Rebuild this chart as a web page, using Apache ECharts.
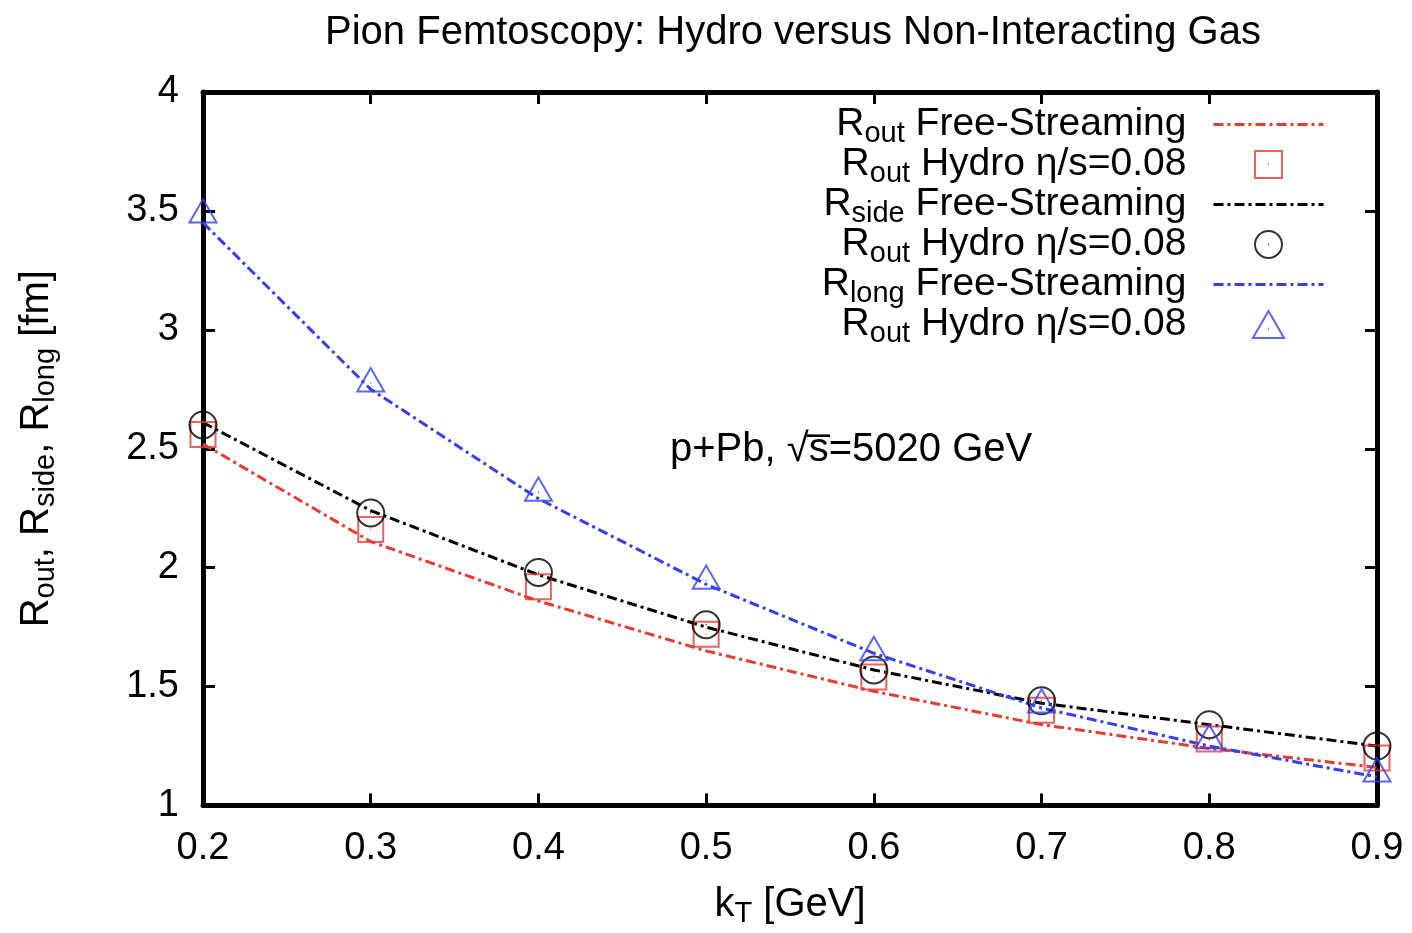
<!DOCTYPE html>
<html><head><meta charset="utf-8">
<script src="https://cdn.jsdelivr.net/npm/echarts@6/dist/echarts.min.js"></script>
<style>html,body{margin:0;padding:0;background:#fff}#c{width:1412px;height:933px}</style>
</head><body><div id="c"></div>
<script>
const kT = [0.2, 0.3, 0.4, 0.5, 0.6, 0.7, 0.8, 0.9];
const routFS    = [2.52, 2.11, 1.86, 1.65, 1.48, 1.34, 1.24, 1.16];
const routHydro = [2.56, 2.16, 1.92, 1.72, 1.54, 1.40, 1.28, 1.20];
const rsideFS    = [2.61, 2.24, 1.97, 1.75, 1.57, 1.43, 1.34, 1.25];
const rsideHydro = [2.60, 2.23, 1.98, 1.76, 1.57, 1.44, 1.34, 1.25];
const rlongFS    = [3.45, 2.75, 2.29, 1.93, 1.64, 1.41, 1.25, 1.12];
const rlongHydro = [3.50, 2.79, 2.33, 1.96, 1.66, 1.44, 1.29, 1.15];
const xTicks = [0.2, 0.3, 0.4, 0.5, 0.6, 0.7, 0.8, 0.9];
const yTicks = [1, 1.5, 2, 2.5, 3, 3.5, 4];

const FONT = 'Liberation Sans';
const pairs = (ys) => kT.map((x, i) => [x, ys[i]]);
const dashDot = [10, 4, 3, 4];

const legendLabels = {
  'routFS': '{m|R}{s|out}{m| Free-Streaming}{g|}',
  'routHydro': '{m|R}{s|out}{m| Hydro η/s=0.08}{g|}',
  'rsideFS': '{m|R}{s|side}{m| Free-Streaming}{g|}',
  'rsideHydro': '{m|R}{s|out}{m| Hydro η/s=0.08}{g|}',
  'rlongFS': '{m|R}{s|long}{m| Free-Streaming}{g|}',
  'rlongHydro': '{m|R}{s|out}{m| Hydro η/s=0.08}{g|}'
};

const SQUARE = 'path://M0,0L10,0L10,10L0,10Z M4.85,5L5.15,5';
const CIRCLE = 'path://M0,5A5,5,0,1,0,10,5A5,5,0,1,0,0,5Z M4.85,5L5.15,5';
const TRIANGLE = 'path://M5,0L10,8.66L0,8.66Z M4.85,5.6L5.15,5.6';

const RED = '#ea3a32', BLACK = '#000000', BLUE = '#3340f2';

function lineSeries(name, data, color) {
  return { name, type: 'line', data: pairs(data), symbol: 'none', z: 2,
    lineStyle: { color, width: 3, type: dashDot }, itemStyle: { color } };
}
function pointSeries(name, data, color, symbol, size) {
  return { name, type: 'scatter', data: pairs(data), symbol, symbolSize: size, symbolKeepAspect: true, z: 3,
    itemStyle: { color: 'rgba(255,255,255,0)', borderColor: color, borderWidth: 2 } };
}

const chart = echarts.init(document.getElementById('c'));
const axisLine = { show: true, lineStyle: { color: '#000', width: 5 } };
const tick = { show: true, inside: true, length: 12, lineStyle: { color: '#000', width: 3 } };
const richAxis = {
  m: { fontFamily: FONT, fontSize: 40, color: '#000', lineHeight: 46 },
  s: { fontFamily: FONT, fontSize: 29, color: '#000', padding: [18, 0, 0, 0], lineHeight: 46 }
};
const legendLine = (name, color) => ({ name, itemStyle: { opacity: 0 },
  lineStyle: { color, width: 3, type: dashDot } });

chart.setOption({
  animation: false,
  backgroundColor: '#fff',
  textStyle: { fontFamily: FONT },
  title: {
    text: 'Pion Femtoscopy: Hydro versus Non-Interacting Gas',
    left: 788, top: 8, textAlign: 'center',
    textStyle: { fontFamily: FONT, fontSize: 40, fontWeight: 'normal', color: '#000' }
  },
  grid: { left: 203, right: 35, top: 92, bottom: 125, containLabel: false },
  xAxis: [{
    type: 'value', min: 0.2, max: 0.9, interval: 0.1, position: 'bottom',
    name: '{m|k}{s|T}{m| [GeV]}', nameLocation: 'middle', nameGap: 76,
    nameTextStyle: { rich: richAxis },
    axisLine, axisTick: tick, splitLine: { show: false },
    axisLabel: { fontFamily: FONT, fontSize: 38, color: '#000', margin: 24,
      formatter: (v) => xTicks.includes(Math.round(v * 10) / 10) ? (Math.round(v * 10) / 10).toFixed(1) : '' }
  }, {
    type: 'value', min: 0.2, max: 0.9, interval: 0.1, position: 'top',
    axisLine, axisTick: tick, axisLabel: { show: false }, splitLine: { show: false }
  }],
  yAxis: [{
    type: 'value', min: 1, max: 4, interval: 0.5, position: 'left',
    name: '{m|R}{s|out}{m|, R}{s|side}{m|, R}{s|long}{m| [fm]}', nameLocation: 'middle', nameGap: 143, nameRotate: 90,
    nameTextStyle: { rich: richAxis },
    axisLine, axisTick: tick, splitLine: { show: false },
    axisLabel: { fontFamily: FONT, fontSize: 38, color: '#000', margin: 24,
      formatter: (v) => { const r = Math.round(v * 10) / 10; return yTicks.includes(r) ? String(r) : ''; } }
  }, {
    type: 'value', min: 1, max: 4, interval: 0.5, position: 'right',
    axisLine, axisTick: tick, axisLabel: { show: false }, splitLine: { show: false }
  }],
  legend: {
    orient: 'vertical', align: 'right', right: 82, top: 96,
    itemWidth: 110, itemHeight: 27, itemGap: -7,
    data: [
      legendLine('routFS', RED),
      { name: 'routHydro', icon: SQUARE },
      legendLine('rsideFS', BLACK),
      { name: 'rsideHydro', icon: CIRCLE },
      legendLine('rlongFS', BLUE),
      { name: 'rlongHydro', icon: TRIANGLE }
    ],
    formatter: (n) => legendLabels[n],
    textStyle: { rich: {
      m: { fontFamily: FONT, fontSize: 39, color: '#000', lineHeight: 46 },
      s: { fontFamily: FONT, fontSize: 29, color: '#000', padding: [18, 0, 0, 0], lineHeight: 46 },
      g: { width: 22 } } }
  },
  graphic: [{
    type: 'text', left: 670, top: 430,
    style: { text: 'p+Pb, √s̅=5020 GeV', fontFamily: FONT, fontSize: 40, fill: '#000' }
  }],
  series: [
    lineSeries('routFS', routFS, RED),
    pointSeries('routHydro', routHydro, RED, SQUARE, 25),
    lineSeries('rsideFS', rsideFS, BLACK),
    pointSeries('rsideHydro', rsideHydro, BLACK, CIRCLE, 27),
    lineSeries('rlongFS', rlongFS, BLUE),
    pointSeries('rlongHydro', rlongHydro, BLUE, TRIANGLE, 27)
  ]
});
</script></body></html>
